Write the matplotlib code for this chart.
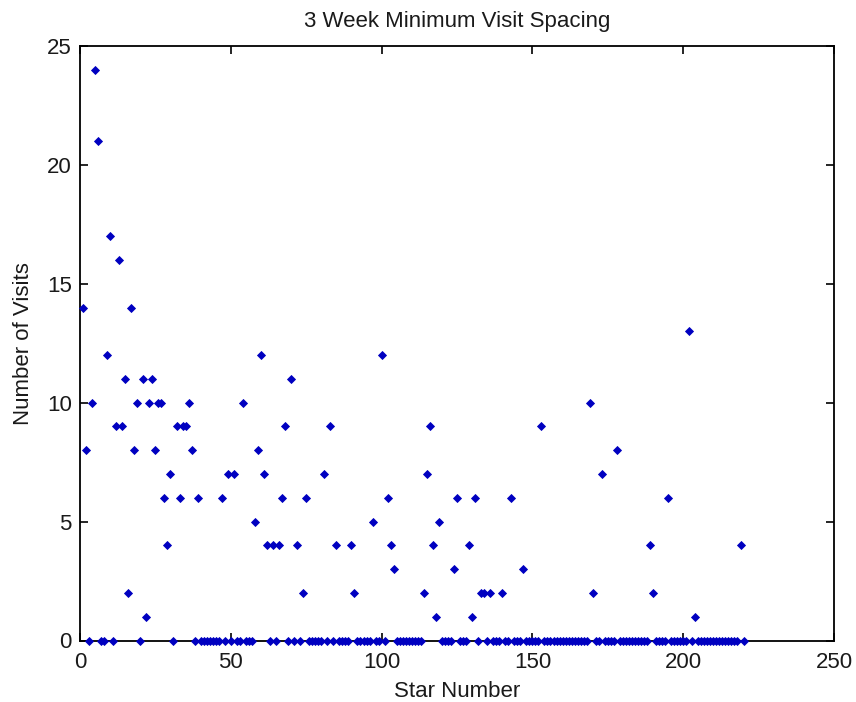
import numpy as np
import matplotlib
matplotlib.use("Agg")
import matplotlib.pyplot as plt

# Number of visits per star (stars numbered 1..220)
visits = [
    14, 8, 0, 10, 24, 21, 0, 0, 12, 17,    # 1-10
    0, 9, 16, 9, 11, 2, 14, 8, 10, 0,      # 11-20
    11, 1, 10, 11, 8, 10, 10, 6, 4, 7,     # 21-30
    0, 9, 6, 9, 9, 10, 8, 0, 6, 0,         # 31-40
    0, 0, 0, 0, 0, 0, 6, 0, 7, 0,          # 41-50
    7, 0, 0, 10, 0, 0, 0, 5, 8, 12,        # 51-60
    7, 4, 0, 4, 0, 4, 6, 9, 0, 11,         # 61-70
    0, 4, 0, 2, 6, 0, 0, 0, 0, 0,          # 71-80
    7, 0, 9, 0, 4, 0, 0, 0, 0, 4,          # 81-90
    2, 0, 0, 0, 0, 0, 5, 0, 0, 12,         # 91-100
    0, 6, 4, 3, 0, 0, 0, 0, 0, 0,          # 101-110
    0, 0, 0, 2, 7, 9, 4, 1, 5, 0,          # 111-120
    0, 0, 0, 3, 6, 0, 0, 0, 4, 1,          # 121-130
    6, 0, 2, 2, 0, 2, 0, 0, 0, 2,          # 131-140
    0, 0, 6, 0, 0, 0, 3, 0, 0, 0,          # 141-150
    0, 0, 9, 0, 0, 0, 0, 0, 0, 0,          # 151-160
    0, 0, 0, 0, 0, 0, 0, 0, 10, 2,         # 161-170
    0, 0, 7, 0, 0, 0, 0, 8, 0, 0,          # 171-180
    0, 0, 0, 0, 0, 0, 0, 0, 4, 2,          # 181-190
    0, 0, 0, 0, 6, 0, 0, 0, 0, 0,          # 191-200
    0, 13, 0, 1, 0, 0, 0, 0, 0, 0,         # 201-210
    0, 0, 0, 0, 0, 0, 0, 0, 4, 0,          # 211-220
]
star_numbers = np.arange(1, len(visits) + 1)

x_ticks = [0, 50, 100, 150, 200, 250]
y_ticks = [0, 5, 10, 15, 20, 25]

plt.rcParams['font.family'] = ['Liberation Sans', 'DejaVu Sans']
text_color = '#1a1a1a'

fig = plt.figure(figsize=(8.56, 7.02), dpi=100, facecolor='white')
ax = fig.add_axes([80/856, 1 - 640.5/702, (834-80)/856, (640.5-46)/702])

ax.plot(star_numbers, visits, linestyle='none', marker='D', markersize=4.4,
        color='#0000C0', markeredgewidth=0.6, clip_on=False, zorder=3)

ax.set_xlim(0, 250)
ax.set_ylim(0, 25)
ax.set_xticks(x_ticks)
ax.set_yticks(y_ticks)
ax.tick_params(direction='in', length=6, width=1.2, top=True, right=True,
               labelsize=16, colors='black', labelcolor=text_color)
ax.tick_params(axis='x', pad=8)
ax.tick_params(axis='y', pad=6)
for s in ax.spines.values():
    s.set_linewidth(1.3)
    s.set_color('black')

ax.set_title('3 Week Minimum Visit Spacing', fontsize=16, pad=14, color=text_color)
ax.set_xlabel('Star Number', fontsize=16, labelpad=6, color=text_color)
ax.set_ylabel('Number of Visits', fontsize=16, labelpad=9, color=text_color)

fig.savefig('out.png', dpi=100, facecolor='white')
